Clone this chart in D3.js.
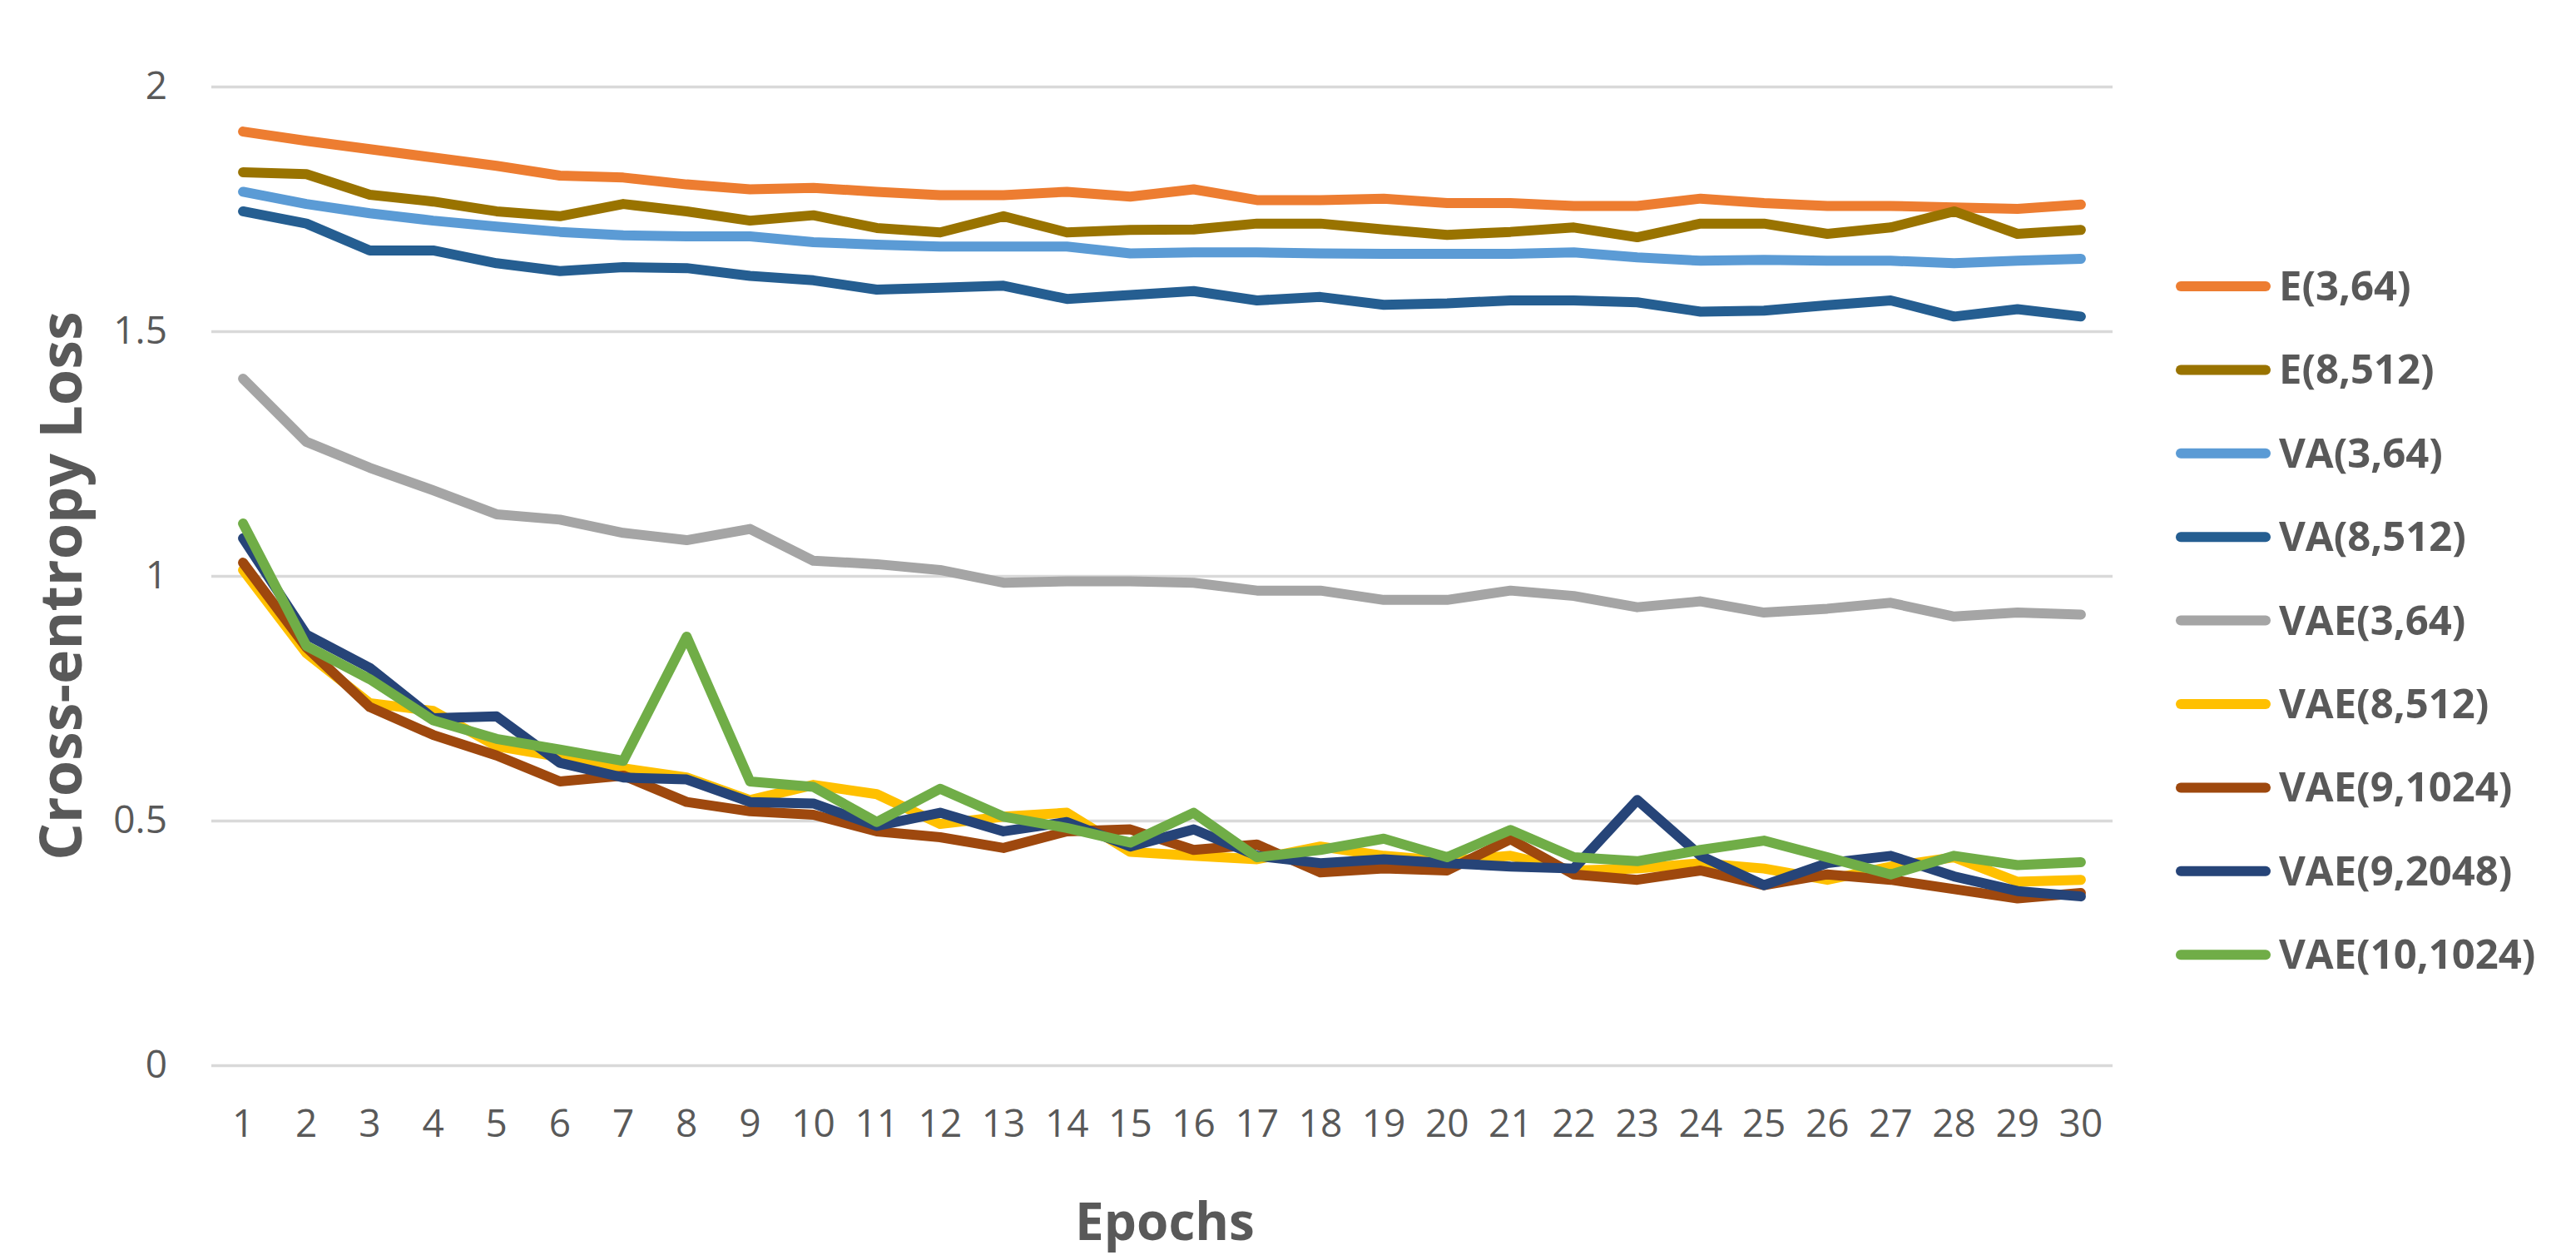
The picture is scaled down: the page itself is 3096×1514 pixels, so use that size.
<!DOCTYPE html>
<html>
<head>
<meta charset="utf-8">
<script src="https://cdn.jsdelivr.net/npm/d3@7"></script>
<style>
  body { margin: 0; background: #fff; }
  svg { display: block; }
</style>
</head>
<body>
<svg id="chart"></svg>
<script>
const epochs = d3.range(1, 31).map(String);

const seriesNames = ["E(3,64)", "E(8,512)", "VA(3,64)", "VA(8,512)", "VAE(3,64)",
    "VAE(8,512)", "VAE(9,1024)", "VAE(9,2048)", "VAE(10,1024)"];

const seriesColors = ["#ED7D31", "#997300", "#5B9BD5", "#255E91", "#A5A5A5",
    "#FFC000", "#9E480E", "#264478", "#70AD47"];

const e3_64 = [1.908, 1.889, 1.872, 1.855, 1.838, 1.818, 1.814, 1.800, 1.790, 1.793,
    1.785, 1.778, 1.778, 1.785, 1.775, 1.790, 1.768, 1.768, 1.771, 1.762,
    1.762, 1.756, 1.756, 1.771, 1.762, 1.756, 1.756, 1.753, 1.750, 1.759];

const e8_512 = [1.825, 1.821, 1.779, 1.765, 1.745, 1.735, 1.760, 1.745, 1.726, 1.737,
    1.711, 1.702, 1.735, 1.702, 1.707, 1.708, 1.720, 1.720, 1.708, 1.697,
    1.703, 1.712, 1.692, 1.720, 1.720, 1.699, 1.712, 1.745, 1.699, 1.707];

const va3_64 = [1.785, 1.760, 1.741, 1.726, 1.714, 1.703, 1.696, 1.694, 1.694, 1.682,
    1.677, 1.673, 1.673, 1.673, 1.659, 1.661, 1.661, 1.659, 1.658, 1.658,
    1.658, 1.661, 1.651, 1.644, 1.646, 1.644, 1.644, 1.639, 1.644, 1.648];

const va8_512 = [1.745, 1.720, 1.665, 1.665, 1.639, 1.623, 1.631, 1.629, 1.613, 1.604,
    1.585, 1.589, 1.593, 1.566, 1.574, 1.582, 1.563, 1.570, 1.554, 1.557,
    1.563, 1.563, 1.559, 1.540, 1.542, 1.553, 1.563, 1.530, 1.545, 1.530];

const vae3_64 = [1.403, 1.274, 1.221, 1.175, 1.126, 1.115, 1.088, 1.073, 1.096, 1.031,
    1.024, 1.012, 0.986, 0.989, 0.989, 0.986, 0.970, 0.970, 0.951, 0.951,
    0.970, 0.959, 0.936, 0.948, 0.925, 0.933, 0.945, 0.917, 0.925, 0.921];

const vae8_512 = [1.012, 0.842, 0.740, 0.724, 0.652, 0.630, 0.607, 0.588, 0.542, 0.573,
    0.554, 0.493, 0.508, 0.516, 0.436, 0.428, 0.421, 0.447, 0.428, 0.417,
    0.428, 0.398, 0.402, 0.413, 0.402, 0.379, 0.406, 0.425, 0.375, 0.379];

const vae9_1024 = [1.027, 0.854, 0.732, 0.675, 0.633, 0.580, 0.592, 0.538, 0.519, 0.512,
    0.478, 0.466, 0.444, 0.478, 0.482, 0.440, 0.451, 0.394, 0.402, 0.398,
    0.462, 0.390, 0.379, 0.398, 0.368, 0.390, 0.379, 0.360, 0.341, 0.352];

const vae9_2048 = [1.077, 0.880, 0.812, 0.709, 0.713, 0.618, 0.588, 0.584, 0.538, 0.535,
    0.489, 0.516, 0.478, 0.497, 0.447, 0.482, 0.428, 0.413, 0.421, 0.413,
    0.406, 0.402, 0.542, 0.428, 0.368, 0.413, 0.428, 0.386, 0.356, 0.345];

const vae10_1024 = [1.107, 0.857, 0.789, 0.705, 0.667, 0.645, 0.622, 0.876, 0.580, 0.569,
    0.497, 0.565, 0.508, 0.485, 0.455, 0.516, 0.425, 0.440, 0.463, 0.425,
    0.481, 0.425, 0.417, 0.440, 0.459, 0.425, 0.390, 0.428, 0.409, 0.415];

const yTicks = [0, 0.5, 1, 1.5, 2];

const seriesValues = [e3_64, e8_512, va3_64, va8_512, vae3_64,
    vae8_512, vae9_1024, vae9_2048, vae10_1024];

const W = 3096, H = 1514;
const margin = { left: 254, top: 104, right: 557, bottom: 234 };
const width = W - margin.left - margin.right;
const height = H - margin.top - margin.bottom;

const textColor = "#595959";
const font = "'Open Sans', 'DejaVu Sans', sans-serif";

const svg = d3.select("#chart")
    .attr("width", W)
    .attr("height", H);

const g = svg.append("g")
    .attr("transform", `translate(${margin.left},${margin.top})`);

const x = d3.scaleBand()
    .domain(epochs)
    .range([0, width]);

const y = d3.scaleLinear()
    .domain([0, 2])
    .range([height, 0]);

// gridlines + y labels
const yAxis = g.append("g")
    .call(d3.axisLeft(y)
        .tickValues(yTicks)
        .tickFormat(d => d)
        .tickSize(-width)
        .tickPadding(53));
yAxis.select("path.domain").remove();
yAxis.selectAll("line")
    .attr("stroke", "#D9D9D9")
    .attr("stroke-width", 3.5);
yAxis.selectAll("text")
    .attr("fill", textColor)
    .style("font-family", font)
    .style("font-size", "46px");

// x labels
const xAxis = g.append("g")
    .attr("transform", `translate(0,${height})`)
    .call(d3.axisBottom(x).tickSize(0).tickPadding(53));
xAxis.select("path.domain").remove();
xAxis.selectAll("text")
    .attr("fill", textColor)
    .style("font-family", font)
    .style("font-size", "46px");

// series lines
const line = d3.line()
    .x((d, i) => x(epochs[i]) + x.bandwidth() / 2)
    .y(d => y(d));

g.selectAll("path.series")
    .data(seriesValues)
    .enter()
    .append("path")
    .attr("class", "series")
    .attr("d", d => line(d))
    .attr("fill", "none")
    .attr("stroke", (d, i) => seriesColors[i])
    .attr("stroke-width", 12)
    .attr("stroke-linejoin", "round")
    .attr("stroke-linecap", "round");

// axis titles
svg.append("text")
    .attr("transform", "translate(98,704) rotate(-90)")
    .attr("text-anchor", "middle")
    .attr("fill", textColor)
    .style("font-family", font)
    .style("font-weight", "bold")
    .style("font-size", "70px")
    .text("Cross-entropy Loss");

svg.append("text")
    .attr("x", 1400)
    .attr("y", 1490)
    .attr("text-anchor", "middle")
    .attr("fill", textColor)
    .style("font-family", font)
    .style("font-weight", "bold")
    .style("font-size", "62px")
    .text("Epochs");

// legend
const legend = svg.append("g")
    .attr("transform", "translate(2615,344)");

const item = legend.selectAll("g")
    .data(seriesNames)
    .enter()
    .append("g")
    .attr("transform", (d, i) => `translate(0,${i * 100.4})`);

item.append("line")
    .attr("x1", 6)
    .attr("x2", 108)
    .attr("stroke", (d, i) => seriesColors[i])
    .attr("stroke-width", 12)
    .attr("stroke-linecap", "round");

item.append("text")
    .attr("x", 124)
    .attr("y", 17)
    .attr("fill", textColor)
    .style("font-family", font)
    .style("font-weight", "bold")
    .style("font-size", "49px")
    .text(d => d);
</script>
</body>
</html>
